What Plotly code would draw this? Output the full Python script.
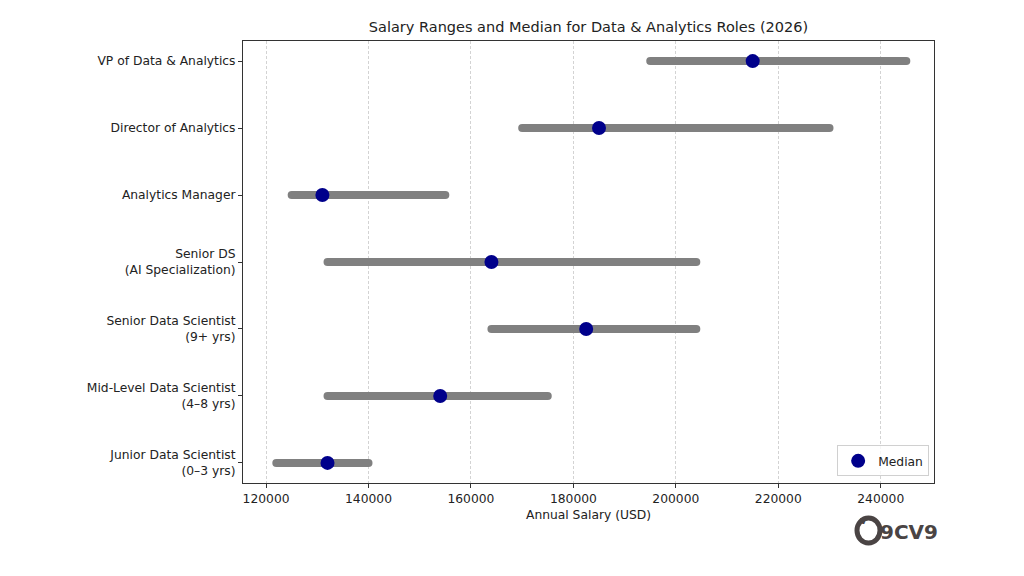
import plotly.graph_objects as go

roles = [
    "Junior Data Scientist<br>(0–3 yrs)",
    "Mid-Level Data Scientist<br>(4–8 yrs)",
    "Senior Data Scientist<br>(9+ yrs)",
    "Senior DS<br>(AI Specialization)",
    "Analytics Manager",
    "Director of Analytics",
    "VP of Data & Analytics",
]
low_salary = [122000, 132000, 164000, 132000, 125000, 170000, 195000]
high_salary = [140000, 175000, 204000, 204000, 155000, 230000, 245000]
median_salary = [132000, 154000, 182500, 164000, 131000, 185000, 215000]
x_ticks = [120000, 140000, 160000, 180000, 200000, 220000, 240000]

font_family = "DejaVu Sans"
text_color = "#222222"

# page body has an 8px margin, so the figure is drawn 8px smaller
W, H = 1016, 568
PL, PR, PT, PB = 235, 926, 33, 475  # plot area in figure pixels

fig = go.Figure()

lx, ly = [], []
for r, lo, hi in zip(roles, low_salary, high_salary):
    lx += [lo, hi, None]
    ly += [r, r, None]
fig.add_trace(go.Scatter(
    x=lx, y=ly, mode="lines+markers",
    line=dict(color="#808080", width=8),
    marker=dict(color="#808080", size=8, line=dict(width=0)),
    showlegend=False, hoverinfo="skip",
))

fig.add_trace(go.Scatter(
    x=median_salary, y=roles, mode="markers", name="Median",
    marker=dict(color="#00008B", size=14, line=dict(width=0)),
))

fig.update_layout(
    width=W, height=H,
    paper_bgcolor="white", plot_bgcolor="white",
    margin=dict(l=PL, r=W - PR, t=PT, b=H - PB, pad=0),
    font=dict(family=font_family, size=12.3, color=text_color),
    title=dict(
        text="Salary Ranges and Median for Data & Analytics Roles (2026)",
        x=(PL + PR) / 2 / W, xanchor="center",
        y=1 - 19 / H, yanchor="middle",
        font=dict(family=font_family, size=14.5, color=text_color),
    ),
    legend=dict(
        x=0.993, y=0.015, xanchor="right", yanchor="bottom",
        bgcolor="rgba(255,255,255,0.8)", bordercolor="#d0d0d0", borderwidth=1,
        font=dict(family=font_family, size=12.3, color=text_color),
    ),
)

fig.update_xaxes(
    range=[115500, 250400],
    tickvals=x_ticks, ticktext=[str(v) for v in x_ticks],
    showgrid=True, gridcolor="#d3d3d3", griddash="3px,2px", gridwidth=1,
    showline=True, linecolor="#333333", linewidth=1, mirror=True,
    ticks="outside", ticklen=4, tickcolor="#333333",
    zeroline=False,
    title=dict(text="Annual Salary (USD)", standoff=5,
               font=dict(family=font_family, size=12.3, color=text_color)),
)
fig.update_yaxes(
    type="category", categoryorder="array", categoryarray=roles,
    range=[-0.3, 6.3],
    showgrid=False,
    showline=True, linecolor="#333333", linewidth=1, mirror=True,
    ticks="outside", ticklen=4, tickcolor="#333333",
    zeroline=False,
)

# 9CV9 logo (approximation), positioned in page pixels minus the 8px body offset
pw, ph = PR - PL, PB - PT
def px(x):
    return (x - 8 - PL) / pw
def py(y):
    return (PB - (y - 8)) / ph

fig.add_shape(type="circle", xref="paper", yref="paper",
              x0=px(857), x1=px(880), y0=py(543), y1=py(518),
              line=dict(color="#4a4444", width=5))
fig.add_annotation(xref="paper", yref="paper", x=px(868.5), y=py(528),
                   text="<b>v</b>", showarrow=False,
                   font=dict(family=font_family, size=10, color="#4a4444"))
fig.add_annotation(xref="paper", yref="paper", x=px(878), y=py(532),
                   xanchor="left", yanchor="middle",
                   text="<b>9CV9</b>", showarrow=False,
                   font=dict(family=font_family, size=20, color="#4a4444"))

fig.write_html("out.html")
